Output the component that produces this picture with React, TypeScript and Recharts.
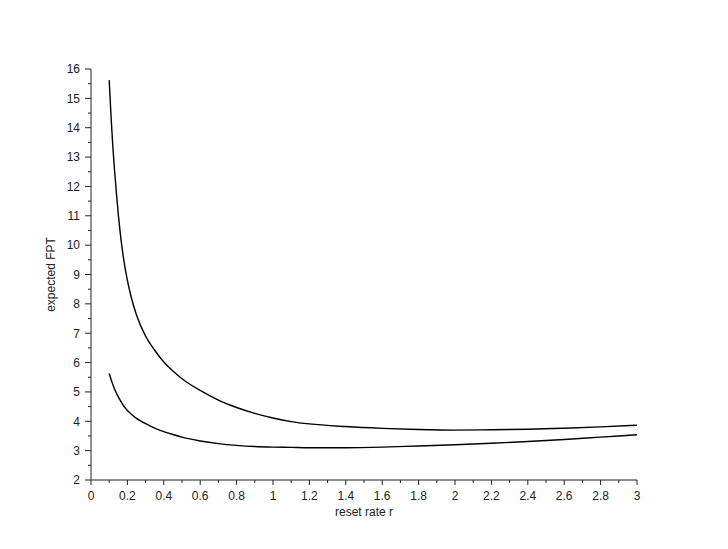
import React from 'react';
import { LineChart, Line, XAxis, YAxis } from 'recharts';

const rValues = [0.1, 0.11, 0.12, 0.13, 0.14, 0.15, 0.16, 0.18, 0.2, 0.22, 0.25, 0.3, 0.35, 0.4, 0.45, 0.5, 0.6, 0.7, 0.8, 0.9, 1.0, 1.1, 1.2, 1.4, 1.6, 1.8, 2.0, 2.2, 2.4, 2.6, 2.8, 3.0];
const upperFPT = [15.62, 14.4, 13.35, 12.5, 11.75, 11.05, 10.45, 9.5, 8.8, 8.25, 7.62, 6.9, 6.42, 6.02, 5.71, 5.45, 5.05, 4.72, 4.47, 4.27, 4.11, 3.99, 3.91, 3.82, 3.76, 3.72, 3.7, 3.71, 3.73, 3.765, 3.81, 3.865];
const lowerFPT = [5.63, 5.43, 5.25, 5.09, 4.95, 4.83, 4.72, 4.52, 4.37, 4.25, 4.1, 3.92, 3.77, 3.65, 3.55, 3.46, 3.33, 3.24, 3.18, 3.14, 3.12, 3.11, 3.1, 3.1, 3.12, 3.16, 3.2, 3.25, 3.31, 3.38, 3.46, 3.54];

const xTicks = [0, 0.1, 0.2, 0.3, 0.4, 0.5, 0.6, 0.7, 0.8, 0.9, 1, 1.1, 1.2, 1.3, 1.4, 1.5, 1.6, 1.7, 1.8, 1.9, 2, 2.1, 2.2, 2.3, 2.4, 2.5, 2.6, 2.7, 2.8, 2.9, 3];
const yTicks = [2, 2.5, 3, 3.5, 4, 4.5, 5, 5.5, 6, 6.5, 7, 7.5, 8, 8.5, 9, 9.5, 10, 10.5, 11, 11.5, 12, 12.5, 13, 13.5, 14, 14.5, 15, 15.5, 16];

const data = rValues.map((r, i) => ({ r, upper: upperFPT[i], lower: lowerFPT[i] }));

const FONT = '"Liberation Sans", Arial, Helvetica, sans-serif';
const AXIS_COLOR = '#222';

const XTick = (props: any) => {
  const { x, y, payload } = props;
  const v = payload.value as number;
  const major = Math.round(v * 10) % 2 === 0;
  return (
    <g>
      <line x1={x} x2={x} y1={y} y2={y + (major ? 5 : 3)} stroke={AXIS_COLOR} strokeWidth={1} />
      {major && (
        <text x={x} y={y + 20} textAnchor="middle" fontSize={12} fontFamily={FONT} fill="#222">
          {String(Number(v.toFixed(1)))}
        </text>
      )}
    </g>
  );
};

const YTick = (props: any) => {
  const { x, y, payload } = props;
  const v = payload.value as number;
  const major = Math.abs(v - Math.round(v)) < 1e-6;
  return (
    <g>
      <line x1={x - (major ? 6 : 3)} x2={x} y1={y} y2={y} stroke={AXIS_COLOR} strokeWidth={1} />
      {major && (
        <text x={x - 11} y={y + 4.3} textAnchor="end" fontSize={12} fontFamily={FONT} fill="#222">
          {String(v)}
        </text>
      )}
    </g>
  );
};

const YLabel = (props: any) => {
  const vb = props.viewBox || { x: 0, y: 0, width: 0, height: 0 };
  const cx = vb.x + 47;
  const cy = vb.y + vb.height / 2;
  return (
    <text x={cx} y={cy} transform={`rotate(-90, ${cx}, ${cy})`} textAnchor="middle" fontSize={12} fontFamily={FONT} fill="#222">
      expected FPT
    </text>
  );
};

const XLabel = (props: any) => {
  const vb = props.viewBox || { x: 0, y: 0, width: 0, height: 0 };
  const cx = vb.x + vb.width / 2;
  const cy = vb.y + 36;
  return (
    <text x={cx} y={cy} textAnchor="middle" fontSize={12} fontFamily={FONT} fill="#222">
      reset rate r
    </text>
  );
};

export default function App() {
  return (
    <div style={{ width: 720, height: 541, background: '#fff' }}>
      <LineChart width={720} height={541} data={data} margin={{ top: 61, right: 91, left: 0, bottom: 29 }}>
        <XAxis
          dataKey="r"
          type="number"
          domain={[0, 3]}
          ticks={xTicks}
          interval={0}
          tickSize={0}
          tickMargin={0}
          tickLine={false}
          tick={<XTick />}
          axisLine={{ stroke: AXIS_COLOR, strokeWidth: 1 }}
          height={40}
          allowDataOverflow
          label={<XLabel />}
        />
        <YAxis
          type="number"
          domain={[2, 16]}
          ticks={yTicks}
          interval={0}
          tickSize={0}
          tickMargin={0}
          tickLine={false}
          tick={<YTick />}
          axisLine={{ stroke: AXIS_COLOR, strokeWidth: 1 }}
          width={83}
          allowDataOverflow
          label={<YLabel />}
        />
        <Line type="monotone" dataKey="upper" stroke="#000" strokeWidth={1.4} dot={false} isAnimationActive={false} />
        <Line type="monotone" dataKey="lower" stroke="#000" strokeWidth={1.4} dot={false} isAnimationActive={false} />
      </LineChart>
    </div>
  );
}
